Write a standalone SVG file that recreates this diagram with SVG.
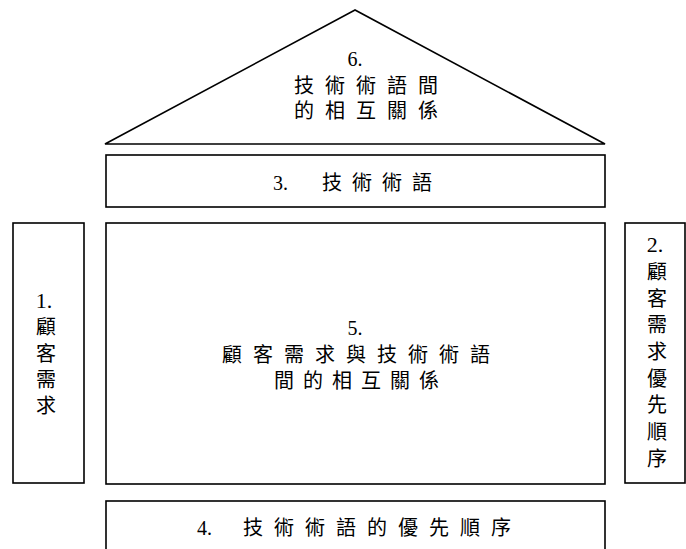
<svg xmlns="http://www.w3.org/2000/svg" width="686" height="549" viewBox="0 0 686 549">
<style>
.s{fill:#fff;stroke:#000;stroke-width:1.6}
.t{font-family:"Liberation Serif","Noto Sans CJK TC",serif;font-size:20px;fill:#000}
.h{letter-spacing:11px}
.m{text-anchor:middle}
</style>
<rect width="686" height="549" fill="#fff"/>
<g id="n6">
<polygon class="s" points="355,10 105,144 605,144"/>
<text class="t m" x="355" y="66" font-size="22">6.</text>
<text class="t h" x="294" y="93">技術術語間</text>
<text class="t h" x="294" y="118">的相互關係</text>
</g>
<g id="n3">
<rect class="s" x="106" y="155" width="499" height="52"/>
<text class="t" x="273" y="190">3.</text>
<text class="t" x="322" y="190" style="letter-spacing:10px">技術術語</text>
</g>
<g id="n5">
<rect class="s" x="106" y="223" width="499" height="261"/>
<text class="t m" x="355" y="335" font-size="22">5.</text>
<text class="t h" x="222" y="362">顧客需求與技術術語</text>
<text class="t" x="274" y="388" style="letter-spacing:9px">間的相互關係</text>
</g>
<g id="n4">
<rect class="s" x="106" y="501" width="499" height="60"/>
<text class="t" x="197" y="535">4.</text>
<text class="t h" x="243" y="535">技術術語的優先順序</text>
</g>
<g id="n1">
<rect class="s" x="13" y="223" width="71" height="260"/>
<g class="t m">
<text x="44" y="308" font-size="22">1.</text>
<text x="46" y="334">顧</text>
<text x="46" y="361">客</text>
<text x="46" y="387">需</text>
<text x="46" y="413">求</text>
</g>
</g>
<g id="n2">
<rect class="s" x="625" y="223" width="60" height="260"/>
<g class="t m">
<text x="655" y="252" font-size="22">2.</text>
<text x="657" y="279">顧</text>
<text x="657" y="306">客</text>
<text x="657" y="332">需</text>
<text x="657" y="359">求</text>
<text x="657" y="386">優</text>
<text x="657" y="412">先</text>
<text x="657" y="439">順</text>
<text x="657" y="466">序</text>
</g>
</g>
<g id="connectors"></g>
</svg>
